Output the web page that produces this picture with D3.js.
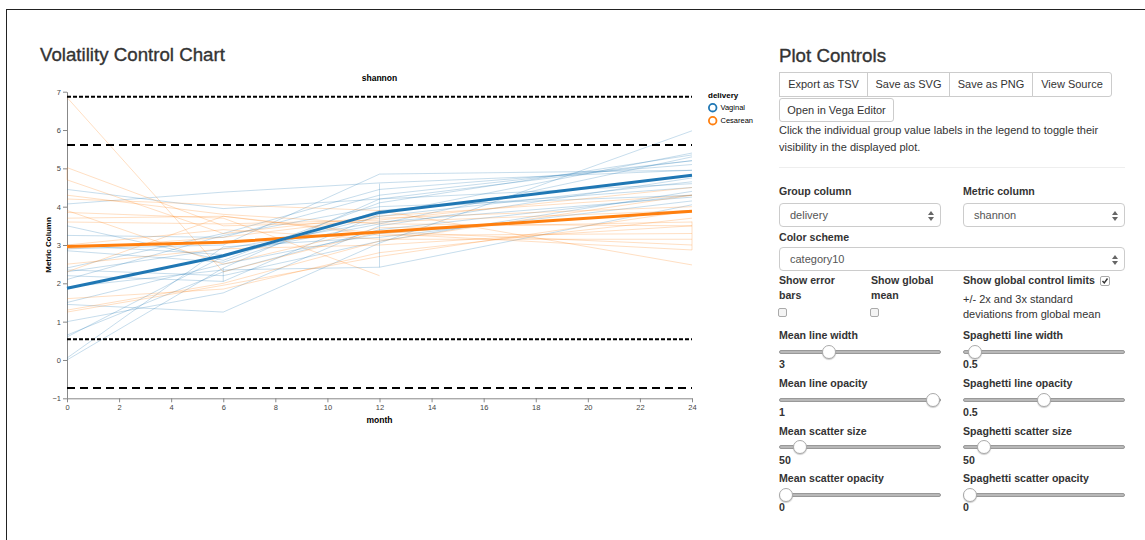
<!DOCTYPE html>
<html>
<head>
<meta charset="utf-8">
<script src="https://cdn.jsdelivr.net/npm/d3@7"></script>
<style>
html,body{margin:0;padding:0;overflow:hidden;}
body{background:#fff;font-family:"Liberation Sans",Arial,sans-serif;color:#333;width:1145px;height:540px;position:relative;}
.edge{position:absolute;background:#222;}
.abs{position:absolute;white-space:nowrap;}
.ttl{font-size:18.7px;line-height:22px;color:#333;-webkit-text-stroke:0.35px #333;}
.btn{position:absolute;border:1px solid #ccc;background:#fff;font-size:11px;color:#333;text-align:center;box-sizing:border-box;}
.txt{font-size:11px;line-height:17px;}
.lbl{font-size:10.6px;line-height:15px;font-weight:bold;}
.sel{position:absolute;border:1px solid #ccc;border-radius:4px;box-sizing:border-box;height:24px;font-size:11px;color:#555;line-height:22px;padding-left:10px;}
.sel svg{position:absolute;right:6px;top:7px;}
.chk{position:absolute;width:9px;height:9px;border:1px solid #aaa;border-radius:2px;background:#f4f4f4;box-sizing:border-box;}
.track{position:absolute;height:4px;background:#b8b8b8;border:1px solid #999;border-radius:3px;box-sizing:border-box;}
.thumb{position:absolute;width:14px;height:14px;border-radius:50%;background:#fff;border:1px solid #aaa;box-sizing:border-box;box-shadow:0 1px 1px rgba(0,0,0,0.2);}
hr{position:absolute;margin:0;border:0;border-top:1px solid #eee;}
</style>
</head>
<body>
<div class="edge" style="left:6px;top:9px;width:1139px;height:1px"></div>
<div class="edge" style="left:6px;top:9px;width:1px;height:531px"></div>
<div class="abs ttl" style="left:40px;top:44px">Volatility Control Chart</div>
<div class="abs ttl" style="left:779px;top:45px">Plot Controls</div>

<div class="btn" style="left:779px;top:72px;width:89px;height:25px;line-height:23px">Export as TSV</div>
<div class="btn" style="left:867px;top:72px;width:83px;height:25px;line-height:23px">Save as SVG</div>
<div class="btn" style="left:949px;top:72px;width:84px;height:25px;line-height:23px">Save as PNG</div>
<div class="btn" style="left:1032px;top:72px;width:80px;height:25px;line-height:23px;border-radius:0 3px 3px 0">View Source</div>
<div class="btn" style="left:779px;top:98px;width:115px;height:24px;line-height:22px;border-radius:3px">Open in Vega Editor</div>

<div class="abs txt" style="left:779px;top:122px">Click the individual group value labels in the legend to toggle their<br>visibility in the displayed plot.</div>
<hr style="left:779px;top:167px;width:346px">

<div class="abs lbl" style="left:779px;top:184px">Group column</div>
<div class="abs lbl" style="left:963px;top:184px">Metric column</div>
<div class="sel" style="left:779px;top:203px;width:162px">delivery<svg width="6" height="10"><path d="M3 0L6 4H0Z M3 10L6 6H0Z" fill="#666"/></svg></div>
<div class="sel" style="left:963px;top:203px;width:162px">shannon<svg width="6" height="10"><path d="M3 0L6 4H0Z M3 10L6 6H0Z" fill="#666"/></svg></div>
<div class="abs lbl" style="left:779px;top:230px">Color scheme</div>
<div class="sel" style="left:779px;top:247px;width:346px">category10<svg width="6" height="10"><path d="M3 0L6 4H0Z M3 10L6 6H0Z" fill="#666"/></svg></div>

<div class="abs lbl" style="left:779px;top:273px">Show error<br>bars</div>
<div class="abs lbl" style="left:871px;top:273px">Show global<br>mean</div>
<div class="abs lbl" style="left:963px;top:273px">Show global control limits</div>
<div class="abs" style="left:963px;top:292px;font-size:11px;line-height:15px">+/- 2x and 3x standard<br>deviations from global mean</div>
<div class="chk" style="left:778px;top:308px"></div>
<div class="chk" style="left:870px;top:308px"></div>
<div class="chk" style="left:1100px;top:276px;width:10px;height:10px;background:#fff"><svg width="8" height="8" style="position:absolute;left:0;top:0"><path d="M1.5 4L3.3 6L6.5 1.5" stroke="#333" stroke-width="1.4" fill="none"/></svg></div>

<div id="sliders"></div>

<script>
// chart values
const months = [0, 6, 12, 24];
const groupNames = ["Vaginal", "Cesarean"];
const groupColors = ["#1f77b4", "#ff7f0e"];
const vaginalMean = [1.87, 2.72, 3.85, 4.82];
const cesareanMean = [2.96, 3.07, 3.34, 3.88];
const vaginalSubjects = [
    [4.45, 3.95, 4.2, 4.6],
    [4.07, 4.38, 4.62, 4.95],
    [3.5, 2.6, 4.1, 5.35],
    [3.25, 3.2, 4.3, 5.2],
    [2.85, 2.55, 3.9, 4.5],
    [2.4, 3.3, 4.45, 5.1],
    [2.3, 2.9, 3.6, 4.25],
    [2.35, 2.2, 3.1, 4.4],
    [2.2, 2.05, 3.8, 5.4],
    [2.1, 3.25, 4.0, 4.3],
    [1.5, 2.5, 3.3, 3.9],
    [1.45, 1.25, 3.05, 5.98],
    [1.0, 1.75, 3.5, 4.75],
    [0.65, 2.3, 3.4, 4.3],
    [0.6, 2.7, 3.75, 4.65],
    [0.05, 2.95, 3.2, 4.15],
    [0.0, 2.4, 4.2, 5.2],
    [1.9, 2.35, 2.42, 4.05],
    [2.9, 3.0, 4.85, 4.95],
    [3.0, 2.75, 3.55, 5.3]
];
const cesareanSubjects = [
    [6.85, 2.3, 3.35, 3.0],
    [5.02, 3.5, 3.6, 3.9],
    [4.7, 3.3, 3.75, 4.3],
    [4.3, 3.8, 3.55, 3.5],
    [4.2, 4.05, 3.9, 2.48],
    [3.9, 2.5, 3.45, 3.6],
    [3.85, 3.7, 2.2, null],
    [3.7, 3.75, 3.25, 3.3],
    [3.6, 3.55, 3.65, 4.5],
    [2.9, 3.2, 3.7, 4.0],
    [2.5, 2.9, 3.0, 3.5],
    [2.3, 3.75, 3.3, 2.87],
    [1.6, 1.85, 2.8, 3.7],
    [1.3, 2.0, 3.1, 4.3],
    [1.25, 1.95, 2.7, 3.9],
    [3.0, 3.4, 3.15, 3.15]
];
// same subject sampled twice in one month: [month, first value, second value]
const vaginalRepeats = [[6, 2.05, 2.4], [12, 4.6, 2.42]];
const cesareanRepeats = [[0, 5.0, 4.7], [24, 2.87, 3.61]];
const controlLimits = [6.87, 5.61, 0.54, -0.73];
const yTicks = [-1, 0, 1, 2, 3, 4, 5, 6, 7];
const xTicks = [0, 2, 4, 6, 8, 10, 12, 14, 16, 18, 20, 22, 24];

const sliderLabels = [["Mean line width", "Spaghetti line width"], ["Mean line opacity", "Spaghetti line opacity"],
    ["Mean scatter size", "Spaghetti scatter size"], ["Mean scatter opacity", "Spaghetti scatter opacity"]];
const sliderValues = [["3", "0.5"], ["1", "0.5"], ["50", "50"], ["0", "0"]];
const sliderPos = [[0.29, 0.034], [1, 0.503], [0.095, 0.095], [0, 0]];

// ---- sliders
const sl = d3.select("#sliders");
sliderLabels.forEach((row, i) => {
    row.forEach((lab, j) => {
        const left = j ? 963 : 779;
        const top = 328 + i * 47.8;
        sl.append("div").attr("class", "abs lbl").style("left", left + "px").style("top", top + "px").text(lab);
        sl.append("div").attr("class", "track").style("left", left + "px").style("top", (top + 21.7) + "px").style("width", "162px");
        sl.append("div").attr("class", "thumb").style("left", (left + sliderPos[i][j] * 147) + "px").style("top", (top + 16.7) + "px");
        sl.append("div").attr("class", "abs lbl").style("left", left + "px").style("top", (top + 29) + "px").text(sliderValues[i][j]);
    });
});

// ---- chart
const width = 770, height = 440;
const svg = d3.select("body").append("svg")
    .attr("width", width).attr("height", height)
    .style("position", "absolute").style("left", 0).style("top", 0)
    .style("font-family", '"Liberation Sans",Arial,sans-serif');

const x = d3.scaleLinear().domain([0, 24]).range([67, 692]);
const y = d3.scaleLinear().domain([-1, 7]).range([398.3, 91.7]);

const line = d3.line().x(d => x(d[0])).y(d => y(d[1]));

function yAxis(g) {
    g.attr("transform", "translate(67,0)")
        .call(d3.axisLeft(y).tickValues(yTicks).tickSize(4).tickSizeOuter(0).tickPadding(2))
        .attr("font-size", "7.5px");
}
function xAxis(g) {
    g.attr("transform", `translate(0,${y(-1)})`)
        .call(d3.axisBottom(x).tickValues(xTicks).tickSize(4).tickSizeOuter(0).tickPadding(2))
        .attr("font-size", "7.5px");
}
svg.append("g").call(xAxis);
svg.append("g").call(yAxis);
svg.selectAll(".domain, .tick line").attr("stroke", "#888");
svg.selectAll(".tick text").attr("fill", "#444").attr("font-family", '"Liberation Sans",Arial,sans-serif');

const spag = svg.append("g").attr("fill", "none");
function drawGroup(subjects, repeats, color) {
    subjects.forEach(s => {
        const pts = months.map((m, i) => [m, s[i]]).filter(p => p[1] != null);
        spag.append("path").attr("d", line(pts)).attr("stroke", color)
            .attr("stroke-opacity", 0.25).attr("stroke-width", 1);
    });
    repeats.forEach(r => {
        spag.append("path").attr("d", line([[r[0], r[1]], [r[0], r[2]]])).attr("stroke", color)
            .attr("stroke-opacity", 0.25).attr("stroke-width", 1);
    });
}
drawGroup(vaginalSubjects, vaginalRepeats, groupColors[0]);
drawGroup(cesareanSubjects, cesareanRepeats, groupColors[1]);

[cesareanMean, vaginalMean].forEach((m, i) => {
    svg.append("path").attr("d", line(months.map((mm, k) => [mm, m[k]])))
        .attr("fill", "none").attr("stroke", groupColors[1 - i]).attr("stroke-width", 3)
        .attr("stroke-linejoin", "round");
});

svg.append("g").selectAll("line").data(controlLimits).join("line")
    .attr("x1", x(0)).attr("x2", x(24))
    .attr("y1", d => y(d)).attr("y2", d => y(d))
    .attr("stroke", "#000").attr("stroke-width", 2)
    .attr("stroke-dasharray", (d, i) => i % 2 === 0 ? "4,2" : "8,5");

svg.append("text").attr("x", 379.5).attr("y", 81).attr("text-anchor", "middle")
    .attr("font-size", "8.5px").attr("font-weight", "bold").attr("fill", "#000").text("shannon");
svg.append("text").attr("x", 379.5).attr("y", 422.5).attr("text-anchor", "middle")
    .attr("font-size", "8.5px").attr("font-weight", "bold").attr("fill", "#000").text("month");
svg.append("text").attr("transform", "translate(50.5,245) rotate(-90)").attr("text-anchor", "middle")
    .attr("font-size", "8px").attr("font-weight", "bold").attr("fill", "#000").text("Metric Column");

const legend = svg.append("g");
legend.append("text").attr("x", 708).attr("y", 97.5).attr("font-size", "8px")
    .attr("font-weight", "bold").attr("fill", "#000").text("delivery");
groupNames.forEach((n, i) => {
    legend.append("circle").attr("cx", 712.7).attr("cy", 107.7 + i * 13).attr("r", 3.8)
        .attr("fill", "none").attr("stroke", groupColors[i]).attr("stroke-width", 1.8);
    legend.append("text").attr("x", 720.5).attr("y", 110.4 + i * 13).attr("font-size", "7.5px")
        .attr("fill", "#000").text(n);
});
</script>
</body>
</html>
